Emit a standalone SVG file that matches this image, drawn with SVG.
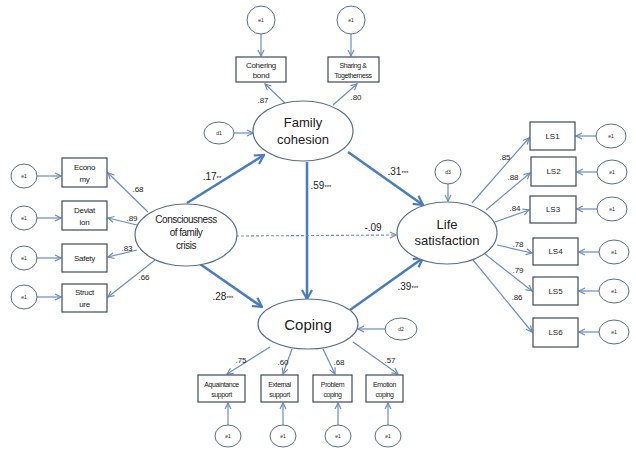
<svg xmlns="http://www.w3.org/2000/svg" width="636" height="456" viewBox="0 0 636 456">
<style>
.bg{fill:#fff}
.lat{fill:#fff;stroke:#5b6e86;stroke-width:1.2}
.err{fill:#fff;stroke:#5b6e86;stroke-width:1}
.box{fill:#fff;stroke:#3f4a57;stroke-width:1.2}
.thick{stroke:#4a7ebb;stroke-width:2.6;fill:none}
.thin{stroke:#6a8dc2;stroke-width:1.2;fill:none}
.dash{stroke:#6a8dc2;stroke-width:1.1;fill:none;stroke-dasharray:3,2}
text{font-family:"Liberation Sans","DejaVu Sans",sans-serif;fill:#222;text-anchor:middle}
.big{font-size:13px}
.mid{font-size:10px;letter-spacing:-0.5px}
.sm{font-size:8px;letter-spacing:-0.3px}
.xs{font-size:7px;letter-spacing:-0.4px}
.e{font-size:5px}
.co{font-size:8px}
.sc{font-size:10px}
.st{font-size:6px}
</style>
<defs>
<marker id="ah" viewBox="0 0 12 12" refX="10.5" refY="6" markerWidth="12" markerHeight="12" markerUnits="userSpaceOnUse" orient="auto">
<path d="M1.5,1 L10.5,6 L1.5,11" fill="none" stroke="#4a7ebb" stroke-width="2.2"/>
</marker>
<marker id="at" viewBox="0 0 8 8" refX="7" refY="4" markerWidth="8" markerHeight="8" markerUnits="userSpaceOnUse" orient="auto">
<path d="M1,1 L7,4 L1,7" fill="none" stroke="#6a8dc2" stroke-width="1.2"/>
</marker>
</defs>
<rect class="bg" x="0" y="0" width="636" height="456"/>

<g id="connectors">
<!-- structural paths -->
<line class="thick" x1="187" y1="203" x2="264" y2="155" marker-end="url(#ah)"/>
<line class="thick" x1="307" y1="162" x2="307" y2="299" marker-end="url(#ah)"/>
<line class="thick" x1="348" y1="152" x2="423" y2="205" marker-end="url(#ah)"/>
<line class="dash" x1="236" y1="236" x2="396" y2="235" marker-end="url(#at)"/>
<line class="thick" x1="200" y1="264" x2="262" y2="307" marker-end="url(#ah)"/>
<line class="thick" x1="350" y1="310" x2="423" y2="258" marker-end="url(#ah)"/>
<!-- family cohesion indicators -->
<line class="thin" x1="261" y1="34" x2="261" y2="56" marker-end="url(#at)"/>
<line class="thin" x1="351" y1="34" x2="351" y2="56" marker-end="url(#at)"/>
<line class="thin" x1="287" y1="105" x2="265" y2="84" marker-end="url(#at)"/>
<line class="thin" x1="333" y1="105" x2="357" y2="84" marker-end="url(#at)"/>
<line class="thin" x1="234" y1="133" x2="253" y2="133" marker-end="url(#at)"/>
<!-- consciousness indicators -->
<line class="thin" x1="37" y1="176" x2="61" y2="176" marker-end="url(#at)"/>
<line class="thin" x1="37" y1="218" x2="61" y2="218" marker-end="url(#at)"/>
<line class="thin" x1="37" y1="258" x2="61" y2="258" marker-end="url(#at)"/>
<line class="thin" x1="37" y1="297" x2="61" y2="297" marker-end="url(#at)"/>
<line class="thin" x1="148" y1="212" x2="108" y2="173" marker-end="url(#at)"/>
<line class="thin" x1="137" y1="225" x2="108" y2="218" marker-end="url(#at)"/>
<line class="thin" x1="137" y1="250" x2="108" y2="257" marker-end="url(#at)"/>
<line class="thin" x1="155" y1="260" x2="108" y2="297" marker-end="url(#at)"/>
<!-- life satisfaction indicators -->
<line class="thin" x1="448" y1="184" x2="448" y2="201" marker-end="url(#at)"/>
<line class="thin" x1="472" y1="203" x2="529" y2="138" marker-end="url(#at)"/>
<line class="thin" x1="486" y1="210" x2="530" y2="173" marker-end="url(#at)"/>
<line class="thin" x1="495" y1="222" x2="529" y2="210" marker-end="url(#at)"/>
<line class="thin" x1="497" y1="245" x2="532" y2="253" marker-end="url(#at)"/>
<line class="thin" x1="485" y1="254" x2="532" y2="291" marker-end="url(#at)"/>
<line class="thin" x1="473" y1="260" x2="532" y2="332" marker-end="url(#at)"/>
<line class="thin" x1="596" y1="136" x2="576" y2="136" marker-end="url(#at)"/>
<line class="thin" x1="597" y1="172" x2="577" y2="172" marker-end="url(#at)"/>
<line class="thin" x1="597" y1="209" x2="577" y2="209" marker-end="url(#at)"/>
<line class="thin" x1="599" y1="252" x2="579" y2="252" marker-end="url(#at)"/>
<line class="thin" x1="599" y1="291" x2="579" y2="291" marker-end="url(#at)"/>
<line class="thin" x1="599" y1="332" x2="579" y2="332" marker-end="url(#at)"/>
<!-- coping indicators -->
<line class="thin" x1="385" y1="329" x2="358" y2="329" marker-end="url(#at)"/>
<line class="thin" x1="270" y1="347" x2="227" y2="374" marker-end="url(#at)"/>
<line class="thin" x1="292" y1="349" x2="283" y2="374" marker-end="url(#at)"/>
<line class="thin" x1="323" y1="349" x2="335" y2="374" marker-end="url(#at)"/>
<line class="thin" x1="353" y1="342" x2="398" y2="374" marker-end="url(#at)"/>
<line class="thin" x1="228" y1="425" x2="228" y2="403" marker-end="url(#at)"/>
<line class="thin" x1="283" y1="425" x2="283" y2="403" marker-end="url(#at)"/>
<line class="thin" x1="338" y1="425" x2="338" y2="403" marker-end="url(#at)"/>
<line class="thin" x1="388" y1="425" x2="388" y2="403" marker-end="url(#at)"/>
</g>

<g id="labels">
<text class="sc" x="212" y="180">.17<tspan class="st">**</tspan></text>
<text class="sc" x="321" y="189">.59<tspan class="st">***</tspan></text>
<text class="sc" x="398" y="175">.31<tspan class="st">***</tspan></text>
<text class="sc" x="373" y="231">-.09</text>
<text class="sc" x="223" y="300">.28<tspan class="st">***</tspan></text>
<text class="sc" x="408" y="290">.39<tspan class="st">***</tspan></text>
<text class="co" x="263" y="103">.87</text>
<text class="co" x="356" y="100">.80</text>
<text class="co" x="138" y="192">.68</text>
<text class="co" x="132" y="221">.89</text>
<text class="co" x="127" y="251">.83</text>
<text class="co" x="144" y="280">.66</text>
<text class="co" x="505" y="160">.85</text>
<text class="co" x="513" y="180">.88</text>
<text class="co" x="515" y="211">.84</text>
<text class="co" x="518" y="247">.78</text>
<text class="co" x="518" y="273">.79</text>
<text class="co" x="517" y="300">.86</text>
<text class="co" x="241" y="363">.75</text>
<text class="co" x="283" y="365">.60</text>
<text class="co" x="339" y="365">.68</text>
<text class="co" x="390" y="363">.57</text>
</g>

<g id="family-cohesion"><ellipse class="lat" cx="303" cy="131" rx="50" ry="30"/><text class="big" x="303" y="127">Family</text><text class="big" x="303" y="144">cohesion</text></g>
<g id="consciousness"><ellipse class="lat" cx="186" cy="235" rx="51" ry="31"/><text class="mid" x="186" y="223">Consciousness</text><text class="mid" x="186" y="236">of family</text><text class="mid" x="186" y="249">crisis</text></g>
<g id="life-satisfaction"><ellipse class="lat" cx="447" cy="233" rx="50" ry="31"/><text class="big" x="447" y="229">Life</text><text class="big" x="447" y="245">satisfaction</text></g>
<g id="coping"><ellipse class="lat" cx="308" cy="324" rx="50" ry="25"/><text x="308" y="330" style="font-size:15px">Coping</text></g>

<g id="cohering-bond"><rect class="box" x="236" y="57" width="50" height="25"/><text class="sm" x="261" y="68">Cohering</text><text class="sm" x="261" y="78">bond</text></g>
<g id="sharing"><rect class="box" x="328" y="57" width="51" height="25"/><text class="xs" x="353" y="68">Sharing &amp;</text><text class="xs" x="353" y="78">Togetherness</text></g>
<g id="e-cb"><ellipse class="err" cx="261" cy="20" rx="14" ry="14"/><text class="e" x="261" y="22">e1</text></g>
<g id="e-sh"><ellipse class="err" cx="351" cy="20" rx="14" ry="14"/><text class="e" x="351" y="22">e1</text></g>
<g id="d1"><ellipse class="err" cx="219" cy="133" rx="15" ry="11"/><text class="e" x="219" y="135">d1</text></g>

<g id="economy"><rect class="box" x="62" y="158" width="45" height="29"/><text class="sm" x="84.5" y="170">Econo</text><text class="sm" x="84.5" y="182">my</text></g>
<g id="deviation"><rect class="box" x="62" y="201" width="45" height="29"/><text class="sm" x="84.5" y="213">Deviat</text><text class="sm" x="84.5" y="225">ion</text></g>
<g id="safety"><rect class="box" x="62" y="244" width="45" height="28"/><text class="sm" x="84.5" y="261">Safety</text></g>
<g id="structure"><rect class="box" x="62" y="284" width="45" height="28"/><text class="sm" x="84.5" y="295">Struct</text><text class="sm" x="84.5" y="307">ure</text></g>
<g id="e-ec"><ellipse class="err" cx="24" cy="176" rx="13" ry="12"/><text class="e" x="24" y="178">e1</text></g>
<g id="e-de"><ellipse class="err" cx="24" cy="218" rx="13" ry="12"/><text class="e" x="24" y="220">e1</text></g>
<g id="e-sa"><ellipse class="err" cx="24" cy="258" rx="13" ry="12"/><text class="e" x="24" y="260">e1</text></g>
<g id="e-st"><ellipse class="err" cx="24" cy="297" rx="13" ry="12"/><text class="e" x="24" y="299">e1</text></g>

<g id="ls1"><rect class="box" x="530" y="122" width="45" height="28"/><text class="co" x="552.5" y="139">LS1</text></g>
<g id="ls2"><rect class="box" x="531" y="157" width="45" height="29"/><text class="co" x="553.5" y="174">LS2</text></g>
<g id="ls3"><rect class="box" x="530" y="196" width="46" height="27"/><text class="co" x="553" y="212">LS3</text></g>
<g id="ls4"><rect class="box" x="533" y="238" width="45" height="27"/><text class="co" x="555.5" y="254">LS4</text></g>
<g id="ls5"><rect class="box" x="533" y="277" width="45" height="28"/><text class="co" x="555.5" y="294">LS5</text></g>
<g id="ls6"><rect class="box" x="533" y="318" width="45" height="29"/><text class="co" x="555.5" y="335">LS6</text></g>
<g id="e-ls1"><ellipse class="err" cx="611" cy="136" rx="15" ry="12"/><text class="e" x="611" y="138">e1</text></g>
<g id="e-ls2"><ellipse class="err" cx="612" cy="172" rx="15" ry="12"/><text class="e" x="612" y="174">e1</text></g>
<g id="e-ls3"><ellipse class="err" cx="612" cy="209" rx="15" ry="12"/><text class="e" x="612" y="211">e1</text></g>
<g id="e-ls4"><ellipse class="err" cx="614" cy="252" rx="15" ry="12"/><text class="e" x="614" y="254">e1</text></g>
<g id="e-ls5"><ellipse class="err" cx="614" cy="291" rx="15" ry="12"/><text class="e" x="614" y="293">e1</text></g>
<g id="e-ls6"><ellipse class="err" cx="614" cy="332" rx="15" ry="12"/><text class="e" x="614" y="334">e1</text></g>
<g id="d3"><ellipse class="err" cx="448" cy="172" rx="13" ry="12"/><text class="e" x="448" y="174">d3</text></g>

<g id="aquaintance"><rect class="box" x="198" y="375" width="47" height="27"/><text class="xs" x="221.5" y="387">Aquaintance</text><text class="xs" x="221.5" y="397">support</text></g>
<g id="external"><rect class="box" x="261" y="375" width="37" height="27"/><text class="xs" x="279.5" y="387">External</text><text class="xs" x="279.5" y="397">support</text></g>
<g id="problem"><rect class="box" x="313" y="375" width="39" height="27"/><text class="xs" x="332.5" y="387">Problem</text><text class="xs" x="332.5" y="397">coping</text></g>
<g id="emotion"><rect class="box" x="366" y="375" width="37" height="27"/><text class="xs" x="384.5" y="387">Emotion</text><text class="xs" x="384.5" y="397">coping</text></g>
<g id="e-aq"><ellipse class="err" cx="228" cy="436" rx="13" ry="11"/><text class="e" x="228" y="438">e1</text></g>
<g id="e-ex"><ellipse class="err" cx="283" cy="436" rx="13" ry="11"/><text class="e" x="283" y="438">e1</text></g>
<g id="e-pr"><ellipse class="err" cx="338" cy="436" rx="13" ry="11"/><text class="e" x="338" y="438">e1</text></g>
<g id="e-em"><ellipse class="err" cx="388" cy="436" rx="13" ry="11"/><text class="e" x="388" y="438">e1</text></g>
<g id="d2"><ellipse class="err" cx="401" cy="329" rx="16" ry="11"/><text class="e" x="401" y="331">d2</text></g>
</svg>
